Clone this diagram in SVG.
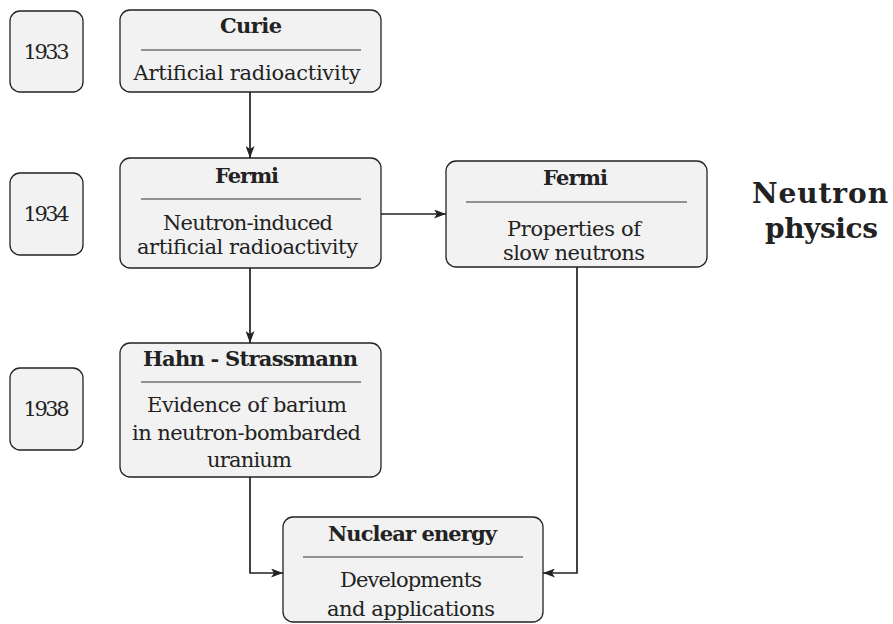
<svg xmlns="http://www.w3.org/2000/svg" width="893" height="624" viewBox="0 0 893 624">
<style>
.box{fill:#f2f2f2;stroke:#222;stroke-width:1.3}
.sep{stroke:#333;stroke-width:1}
.t{font-family:"DejaVu Serif","Liberation Serif",serif;font-size:21px;fill:#222;text-anchor:middle}
.b{font-weight:bold}
.big{font-size:28px}
.c{fill:none;stroke:#222;stroke-width:1.7}
</style>
<defs>
<marker id="ah" viewBox="0 0 12 9" refX="12" refY="4.5" markerWidth="12" markerHeight="9" orient="auto" markerUnits="userSpaceOnUse">
<path d="M0,0 L12,4.5 L0,9 L3,4.5 z" fill="#222"/>
</marker>
</defs>
<rect width="893" height="624" fill="#fff"/>
<g id="connectors">
<line class="c" x1="250" y1="92" x2="250" y2="158" marker-end="url(#ah)"/>
<line class="c" x1="381" y1="214" x2="446" y2="214" marker-end="url(#ah)"/>
<line class="c" x1="250" y1="268" x2="250" y2="343" marker-end="url(#ah)"/>
<polyline class="c" points="250,477 250,573 283,573" marker-end="url(#ah)"/>
<polyline class="c" points="577,267 577,573 543,573" marker-end="url(#ah)"/>
</g>
<g id="y1933">
<rect class="box" x="10" y="11" width="73" height="81" rx="10"/>
<text class="t" x="46.5" y="59" textLength="46">1933</text>
</g>
<g id="y1934">
<rect class="box" x="10" y="173" width="73" height="82" rx="10"/>
<text class="t" x="46.5" y="221" textLength="46">1934</text>
</g>
<g id="y1938">
<rect class="box" x="10" y="368" width="73" height="82" rx="10"/>
<text class="t" x="46.5" y="416" textLength="46">1938</text>
</g>
<g id="curie">
<rect class="box" x="120" y="10" width="261" height="82" rx="10"/>
<text class="t b" x="251" y="33" textLength="62">Curie</text>
<line class="sep" x1="141" y1="50" x2="361" y2="50"/>
<text class="t" x="247" y="80" textLength="227">Artificial radioactivity</text>
</g>
<g id="fermi1">
<rect class="box" x="120" y="158" width="261" height="110" rx="10"/>
<text class="t b" x="247" y="183" textLength="64">Fermi</text>
<line class="sep" x1="141" y1="199" x2="361" y2="199"/>
<text class="t" x="248" y="230" textLength="170">Neutron-induced</text>
<text class="t" x="247.5" y="254" textLength="221">artificial radioactivity</text>
</g>
<g id="fermi2">
<rect class="box" x="446" y="161" width="261" height="106" rx="10"/>
<text class="t b" x="575.5" y="185" textLength="65">Fermi</text>
<line class="sep" x1="466" y1="202" x2="687" y2="202"/>
<text class="t" x="574" y="236" textLength="134">Properties of</text>
<text class="t" x="574" y="260" textLength="142">slow neutrons</text>
</g>
<g id="hahn">
<rect class="box" x="120" y="343" width="261" height="134" rx="10"/>
<text class="t b" x="250.5" y="366" textLength="215">Hahn - Strassmann</text>
<line class="sep" x1="141" y1="382" x2="361" y2="382"/>
<text class="t" x="247" y="412" textLength="200">Evidence of barium</text>
<text class="t" x="246.5" y="440" textLength="229">in neutron-bombarded</text>
<text class="t" x="249.5" y="467" textLength="85">uranium</text>
</g>
<g id="nuclear">
<rect class="box" x="283" y="517" width="260" height="105" rx="10"/>
<text class="t b" x="412.5" y="541" textLength="169">Nuclear energy</text>
<line class="sep" x1="303" y1="557" x2="523" y2="557"/>
<text class="t" x="411" y="587" textLength="142">Developments</text>
<text class="t" x="411" y="616" textLength="168">and applications</text>
</g>
<g id="label">
<text class="t b big" x="820" y="203" textLength="136">Neutron</text>
<text class="t b big" x="821.5" y="238" textLength="113">physics</text>
</g>
</svg>
